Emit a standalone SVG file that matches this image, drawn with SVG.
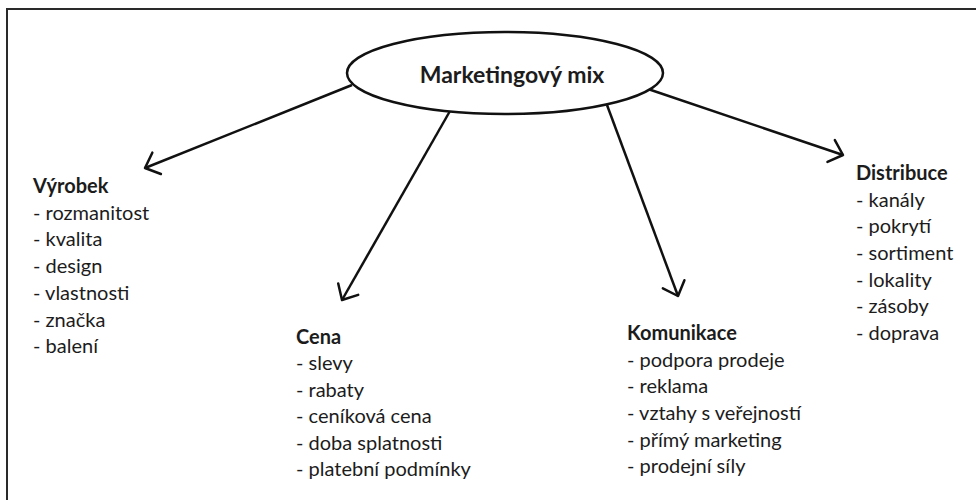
<svg xmlns="http://www.w3.org/2000/svg" width="976" height="500" viewBox="0 0 976 500">
<defs>
<style>
.t{font-family:Lato,"Liberation Sans",sans-serif;font-size:20px;fill:#1c1c1c}
.h{font-weight:bold}
.title{font-family:Lato,"Liberation Sans",sans-serif;font-size:23px;font-weight:bold;fill:#1c1c1c}
.conn{stroke:#111;stroke-width:2.5;fill:none;marker-end:url(#ah)}
</style>
<marker id="ah" markerUnits="userSpaceOnUse" markerWidth="30" markerHeight="30" refX="0" refY="0" viewBox="-20 -15 25 30" orient="auto" overflow="visible">
<path d="M-12.5,-11.5 L0,0 L-12.5,11.5" fill="none" stroke="#111" stroke-width="2.5" stroke-linecap="round" stroke-linejoin="round"/>
</marker>
</defs>
<rect width="976" height="500" fill="#fff"/>
<path d="M7,500 V9 H976" fill="none" stroke="#2a2a2a" stroke-width="2"/>
<g id="connectors">
<line class="conn" x1="352" y1="85" x2="145" y2="168"/>
<line class="conn" x1="450" y1="111" x2="342" y2="300"/>
<line class="conn" x1="607" y1="105" x2="678" y2="296"/>
<line class="conn" x1="648" y1="89" x2="843" y2="155"/>
</g>
<g id="mix">
<ellipse cx="505" cy="73" rx="158" ry="41" fill="#fff" stroke="#111" stroke-width="2.5"/>
<text class="title" x="512" y="83" text-anchor="middle">Marketingový mix</text>
</g>
<g id="vyrobek">
<text class="t h" x="33" y="193">Výrobek</text>
<text class="t" x="33" y="219.7">- rozmanitost</text>
<text class="t" x="33" y="246.4">- kvalita</text>
<text class="t" x="33" y="273.1">- design</text>
<text class="t" x="33" y="299.8">- vlastnosti</text>
<text class="t" x="33" y="326.5">- značka</text>
<text class="t" x="33" y="353.2">- balení</text>
</g>
<g id="cena">
<text class="t h" x="296" y="344">Cena</text>
<text class="t" x="296" y="370.4">- slevy</text>
<text class="t" x="296" y="396.8">- rabaty</text>
<text class="t" x="296" y="423.2">- ceníková cena</text>
<text class="t" x="296" y="449.6">- doba splatnosti</text>
<text class="t" x="296" y="476">- platební podmínky</text>
</g>
<g id="komunikace">
<text class="t h" x="627" y="340">Komunikace</text>
<text class="t" x="627" y="366.7">- podpora prodeje</text>
<text class="t" x="627" y="393.4">- reklama</text>
<text class="t" x="627" y="420">- vztahy s veřejností</text>
<text class="t" x="627" y="446.7">- přímý marketing</text>
<text class="t" x="627" y="473.4">- prodejní síly</text>
</g>
<g id="distribuce">
<text class="t h" x="856" y="180">Distribuce</text>
<text class="t" x="856" y="206.7">- kanály</text>
<text class="t" x="856" y="233.3">- pokrytí</text>
<text class="t" x="856" y="260">- sortiment</text>
<text class="t" x="856" y="286.7">- lokality</text>
<text class="t" x="856" y="313.3">- zásoby</text>
<text class="t" x="856" y="340">- doprava</text>
</g>
</svg>
